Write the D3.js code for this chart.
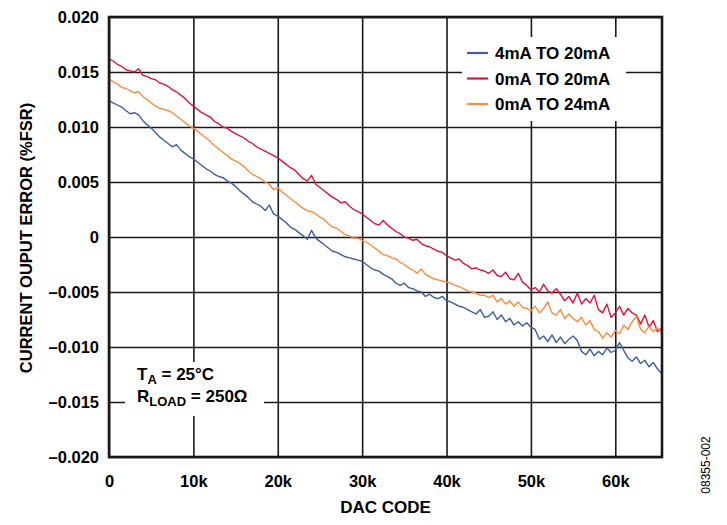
<!DOCTYPE html>
<html>
<head>
<meta charset="utf-8">
<script src="https://cdn.jsdelivr.net/npm/d3@7"></script>
<style>
  html,body{margin:0;padding:0;background:#fff}
  svg{display:block}
</style>
</head>
<body>
<div id="chart"></div>
<script>
// Current output error vs DAC code, 3 output ranges, sampled every 500 codes
var seriesNames=['4mA TO 20mA','0mA TO 20mA','0mA TO 24mA'];
var seriesColors=['#3d5f9e','#e0123c','#ff8a3d'];
var xTicks=[0,10000,20000,30000,40000,50000,60000];
var yTicks=[0.020,0.015,0.010,0.005,0,-0.005,-0.010,-0.015,-0.020];

var codes=d3.range(0,65501,500);

var blue=[
 0.0124,0.0122,0.0120,0.0118,0.0115,0.0112,0.0113,0.0111,0.0106,0.0102,
 0.0099,0.0095,0.0091,0.0088,0.0085,0.0082,0.0084,0.0079,0.0076,0.0073,
 0.0071,0.0068,0.0065,0.0062,0.0060,0.0057,0.0055,0.0054,0.0051,0.0049,
 0.0046,0.0042,0.0039,0.0036,0.0032,0.0030,0.0028,0.0024,0.0029,0.0021,
 0.0019,0.0016,0.0013,0.0009,0.0007,0.0004,0.0001,-0.0002,0.0006,-0.0001,
 -0.0004,-0.0007,-0.0010,-0.0013,-0.0014,-0.0016,-0.0018,-0.0019,-0.0020,-0.0021,
 -0.0022,-0.0025,-0.0028,-0.0030,-0.0031,-0.0034,-0.0036,-0.0038,-0.0042,-0.0044,
 -0.0042,-0.0046,-0.0047,-0.0049,-0.0050,-0.0054,-0.0052,-0.0055,-0.0056,-0.0054,
 -0.0058,-0.0059,-0.0061,-0.0063,-0.0064,-0.0066,-0.0068,-0.0070,-0.0066,-0.0073,
 -0.0072,-0.0068,-0.0075,-0.0071,-0.0077,-0.0074,-0.0080,-0.0077,-0.0081,-0.0078,
 -0.0082,-0.0084,-0.0093,-0.0090,-0.0095,-0.0089,-0.0096,-0.0091,-0.0097,-0.0093,
 -0.0090,-0.0094,-0.0104,-0.0107,-0.0102,-0.0108,-0.0104,-0.0107,-0.0101,-0.0105,
 -0.0103,-0.0096,-0.0103,-0.0110,-0.0113,-0.0109,-0.0115,-0.0112,-0.0118,-0.0114,
 -0.0120,-0.0124
];
var red=[
 0.0162,0.0160,0.0157,0.0155,0.0152,0.0151,0.0150,0.0153,0.0147,0.0146,
 0.0144,0.0143,0.0140,0.0139,0.0137,0.0134,0.0132,0.0129,0.0126,0.0122,
 0.0119,0.0116,0.0113,0.0111,0.0109,0.0105,0.0103,0.0100,0.0099,0.0096,
 0.0094,0.0092,0.0090,0.0087,0.0085,0.0082,0.0080,0.0078,0.0076,0.0074,
 0.0072,0.0069,0.0066,0.0063,0.0061,0.0057,0.0053,0.0051,0.0056,0.0048,
 0.0045,0.0042,0.0039,0.0036,0.0034,0.0031,0.0032,0.0028,0.0025,0.0023,
 0.0021,0.0018,0.0015,0.0012,0.0011,0.0015,0.0011,0.0008,0.0005,0.0003,
 0.0000,-0.0001,-0.0003,-0.0002,-0.0006,-0.0008,-0.0009,-0.0011,-0.0013,-0.0014,
 -0.0017,-0.0019,-0.0021,-0.0020,-0.0024,-0.0026,-0.0029,-0.0028,-0.0030,-0.0031,
 -0.0033,-0.0030,-0.0035,-0.0036,-0.0032,-0.0038,-0.0039,-0.0033,-0.0041,-0.0044,
 -0.0048,-0.0046,-0.0050,-0.0043,-0.0049,-0.0051,-0.0047,-0.0052,-0.0058,-0.0054,
 -0.0060,-0.0051,-0.0061,-0.0056,-0.0060,-0.0053,-0.0066,-0.0069,-0.0061,-0.0073,
 -0.0069,-0.0063,-0.0071,-0.0065,-0.0069,-0.0071,-0.0079,-0.0071,-0.0082,-0.0076,
 -0.0086,-0.0083
];
var orange=[
 0.0144,0.0141,0.0139,0.0136,0.0135,0.0133,0.0131,0.0132,0.0128,0.0125,
 0.0122,0.0119,0.0117,0.0116,0.0115,0.0113,0.0110,0.0107,0.0104,0.0101,
 0.0099,0.0096,0.0093,0.0090,0.0087,0.0083,0.0080,0.0077,0.0074,0.0071,
 0.0069,0.0067,0.0064,0.0060,0.0057,0.0055,0.0053,0.0050,0.0048,0.0043,
 0.0045,0.0041,0.0038,0.0035,0.0032,0.0029,0.0026,0.0024,0.0023,0.0021,
 0.0018,0.0016,0.0012,0.0009,0.0008,0.0005,0.0002,0.0001,-0.0001,-0.0001,
 -0.0003,-0.0005,-0.0007,-0.0010,-0.0013,-0.0016,-0.0017,-0.0019,-0.0020,-0.0023,
 -0.0025,-0.0028,-0.0030,-0.0033,-0.0029,-0.0034,-0.0036,-0.0038,-0.0039,-0.0040,
 -0.0041,-0.0042,-0.0044,-0.0045,-0.0047,-0.0049,-0.0050,-0.0051,-0.0053,-0.0053,
 -0.0055,-0.0053,-0.0059,-0.0056,-0.0061,-0.0058,-0.0063,-0.0059,-0.0064,-0.0065,
 -0.0067,-0.0063,-0.0069,-0.0065,-0.0059,-0.0069,-0.0071,-0.0066,-0.0074,-0.0070,
 -0.0074,-0.0077,-0.0073,-0.0080,-0.0076,-0.0084,-0.0086,-0.0092,-0.0087,-0.0091,
 -0.0085,-0.0088,-0.0080,-0.0084,-0.0077,-0.0072,-0.0084,-0.0087,-0.0081,-0.0086,
 -0.0083,-0.0087
];
var series=[blue,red,orange];

var W=727,H=525;
var m={l:109,t:17,r:65,b:68};
var iw=W-m.l-m.r, ih=H-m.t-m.b;
var F='"Liberation Sans",Arial,Helvetica,sans-serif';

var svg=d3.select('#chart').append('svg').attr('width',W).attr('height',H);
var g=svg.append('g').attr('transform','translate('+m.l+','+m.t+')');

var x=d3.scaleLinear().domain([0,65535]).range([0,iw]);
var y=d3.scaleLinear().domain([-0.02,0.02]).range([ih,0]);

// grid via axes
var gx=g.append('g').attr('transform','translate(0,'+ih+')')
  .call(d3.axisBottom(x).tickValues(xTicks).tickSize(-ih).tickPadding(14)
    .tickFormat(function(d){return d===0?'0':(d/1000)+'k'}));
var gy=g.append('g')
  .call(d3.axisLeft(y).tickValues(yTicks).tickSize(-iw).tickPadding(10)
    .tickFormat(function(d){return d===0?'0':(d<0?'\u2013':'')+Math.abs(d).toFixed(3)}));
[gx,gy].forEach(function(a){
  a.select('.domain').remove();
  a.selectAll('line').attr('stroke','#1a1a1a').attr('stroke-width',1.6);
  a.selectAll('text').attr('fill','#000').attr('font-family',F).attr('font-size',16.5).attr('font-weight','bold');
});
gx.selectAll('text').attr('dy','0.95em');

// data lines
var line=d3.line().x(function(d,i){return x(codes[i])}).y(function(d){return y(d)});
series.forEach(function(s,k){
  g.append('path').datum(s).attr('d',line).attr('fill','none')
    .attr('stroke',seriesColors[k]).attr('stroke-width',1.4).attr('stroke-linejoin','round');
});

// frame
g.append('rect').attr('x',0).attr('y',0).attr('width',iw).attr('height',ih)
  .attr('fill','none').attr('stroke','#1a1a1a').attr('stroke-width',2.6);

// legend
var lg=svg.append('g');
lg.append('rect').attr('x',462).attr('y',37).attr('width',164).attr('height',84).attr('fill','#fff');
seriesNames.forEach(function(n,i){
  var yy=53+i*25.5;
  lg.append('line').attr('x1',467).attr('x2',488).attr('y1',yy).attr('y2',yy)
    .attr('stroke',seriesColors[i]).attr('stroke-width',2.2);
  lg.append('text').attr('x',495).attr('y',yy+6.3).attr('font-family',F).attr('font-size',17)
    .attr('font-weight','bold').attr('fill','#000').text(n);
});

// conditions note
var nt=svg.append('g');
nt.append('rect').attr('x',125).attr('y',362).attr('width',139).attr('height',54).attr('fill','#fff');
var t1=nt.append('text').attr('x',137).attr('y',379.5).attr('font-family',F).attr('font-size',17).attr('font-weight','bold');
t1.append('tspan').text('T');
t1.append('tspan').attr('font-size',13).attr('dy',4).text('A');
t1.append('tspan').attr('dy',-4).text(' = 25\u00b0C');
var t2=nt.append('text').attr('x',137).attr('y',401.5).attr('font-family',F).attr('font-size',17).attr('font-weight','bold');
t2.append('tspan').text('R');
t2.append('tspan').attr('font-size',13).attr('dy',4).text('LOAD');
t2.append('tspan').attr('dy',-4).text(' = 250\u03a9');

// axis titles
svg.append('text').attr('x',m.l+iw/2).attr('y',513).attr('text-anchor','middle')
  .attr('font-family',F).attr('font-size',17).attr('font-weight','bold').text('DAC CODE');
svg.append('text').attr('transform','translate(32,238) rotate(-90)').attr('text-anchor','middle')
  .attr('font-family',F).attr('font-size',16.5).attr('font-weight','bold').text('CURRENT OUPUT ERROR (%FSR)');
svg.append('text').attr('transform','translate(710,465) rotate(-90)').attr('text-anchor','middle')
  .attr('font-family',F).attr('font-size',12).text('08355-002');
</script>
</body>
</html>
